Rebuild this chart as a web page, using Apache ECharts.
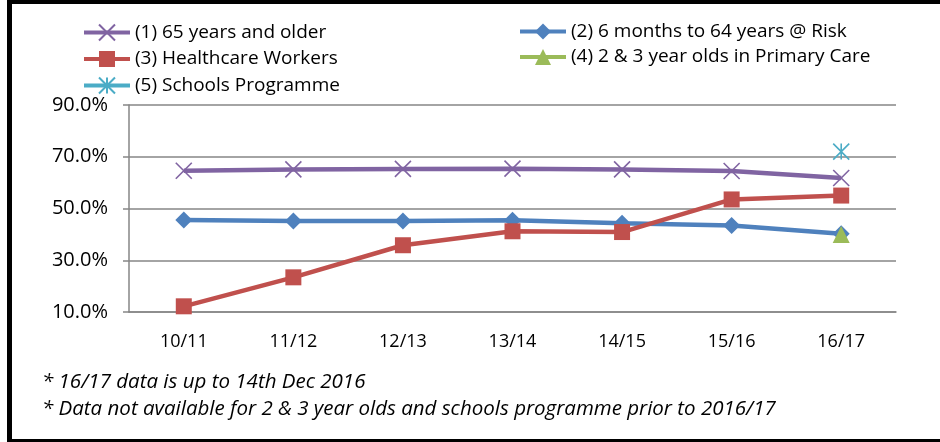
<!DOCTYPE html>
<html>
    <head>
        <meta charset="utf-8">
        <style>
            body { margin: 0; background: #fff; }
        </style>
    </head>
    <body>
        <div id="main" style="width:940px;height:442px"></div>
        <script src="https://cdn.jsdelivr.net/npm/echarts@6/dist/echarts.min.js"></script>
        <script type="text/javascript">
            // seasons on the x axis
            var seasons = ['10/11', '11/12', '12/13', '13/14', '14/15', '15/16', '16/17']
            // uptake, percent
            var over65 = [64.6, 65.1, 65.3, 65.4, 65.1, 64.5, 61.8]
            var atRisk = [45.6, 45.2, 45.2, 45.5, 44.3, 43.4, 40.2]
            var healthcare = [12.2, 23.4, 35.8, 41.2, 40.9, 53.5, 55.0]
            var twoThree = [null, null, null, null, null, null, 40.0]
            var schools = [null, null, null, null, null, null, 72.0]
            var yTicks = [10, 30, 50, 70, 90]

            var names = [
                '(1) 65 years and older',
                '(2) 6 months to 64 years @ Risk',
                '(3) Healthcare Workers',
                '(4) 2 & 3 year olds in Primary Care',
                '(5) Schools Programme'
            ]

            var font = 'Open Sans'
            var crossPath = 'path://M0,0 L10,10 M10,0 L0,10'
            var starPath = 'path://M0,0 L10,10 M10,0 L0,10 M5,0 L5,10'

            function lineSeries(name, data, color, symbol, size, stroke) {
                return {
                    name: name,
                    type: 'line',
                    data: data,
                    color: color,
                    symbol: symbol,
                    symbolSize: size,
                    showAllSymbol: true,
                    connectNulls: false,
                    lineStyle: { width: 4.5, color: color },
                    itemStyle: stroke
                        ? { color: 'none', borderColor: color, borderWidth: 1.6 }
                        : { color: color },
                    emphasis: { disabled: true }
                }
            }

            var legendText = { fontFamily: font, fontSize: 19, color: '#000' }

            var option = {
                animation: false,
                backgroundColor: '#fff',
                legend: [{
                    orient: 'vertical',
                    left: 77,
                    top: 17,
                    itemWidth: 46,
                    itemHeight: 20,
                    itemGap: 6.5,
                    lineStyle: { width: 4 },
                    textStyle: legendText,
                    data: [names[0], names[2], names[4]]
                }, {
                    orient: 'vertical',
                    left: 513,
                    top: 17,
                    itemWidth: 46,
                    itemHeight: 20,
                    itemGap: 6.5,
                    lineStyle: { width: 4 },
                    textStyle: legendText,
                    data: [names[1], names[3]]
                }],
                grid: { left: 129, right: 44, top: 105, bottom: 130 },
                xAxis: {
                    type: 'category',
                    data: seasons,
                    boundaryGap: true,
                    axisLine: { lineStyle: { color: '#868686', width: 1.5 } },
                    axisTick: { length: 6, lineStyle: { color: '#868686', width: 1.5 } },
                    axisLabel: { fontFamily: font, fontSize: 18, color: '#000', margin: 21 }
                },
                yAxis: {
                    type: 'value',
                    min: yTicks[0],
                    max: yTicks[yTicks.length - 1],
                    interval: 20,
                    axisLine: { show: true, lineStyle: { color: '#868686', width: 1.5 } },
                    axisTick: { show: true, length: 6, lineStyle: { color: '#868686', width: 1.5 } },
                    splitLine: { lineStyle: { color: '#868686', width: 1.5 } },
                    axisLabel: {
                        fontFamily: font, fontSize: 20, color: '#000', margin: 21,
                        formatter: function (v) { return v.toFixed(1) + '%' }
                    }
                },
                series: [
                    lineSeries(names[0], over65, '#8064A2', crossPath, 16, true),
                    lineSeries(names[1], atRisk, '#4F81BD', 'diamond', 17, false),
                    lineSeries(names[2], healthcare, '#C0504D', 'rect', 16, false),
                    lineSeries(names[3], twoThree, '#9BBB59', 'triangle', 17, false),
                    lineSeries(names[4], schools, '#4BACC6', starPath, 16, true)
                ],
                graphic: [
                    { type: 'rect', shape: { x: 7, y: 0, width: 5, height: 442 }, style: { fill: '#000' } },
                    { type: 'rect', shape: { x: 7, y: 0, width: 933, height: 4 }, style: { fill: '#000' } },
                    { type: 'rect', shape: { x: 7, y: 439, width: 933, height: 3 }, style: { fill: '#000' } },
                    {
                        type: 'text', left: 42, top: 372,
                        style: { text: '* 16/17 data is up to 14th Dec 2016', font: 'italic 20.5px "Open Sans"', fill: '#000' }
                    },
                    {
                        type: 'text', left: 42, top: 399,
                        style: { text: '* Data not available for 2 & 3 year olds and schools programme prior to 2016/17', font: 'italic 20.5px "Open Sans"', fill: '#000' }
                    }
                ]
            }

            var mychart = echarts.init(document.getElementById('main'))
            mychart.setOption(option)
        </script>
    </body>
</html>
